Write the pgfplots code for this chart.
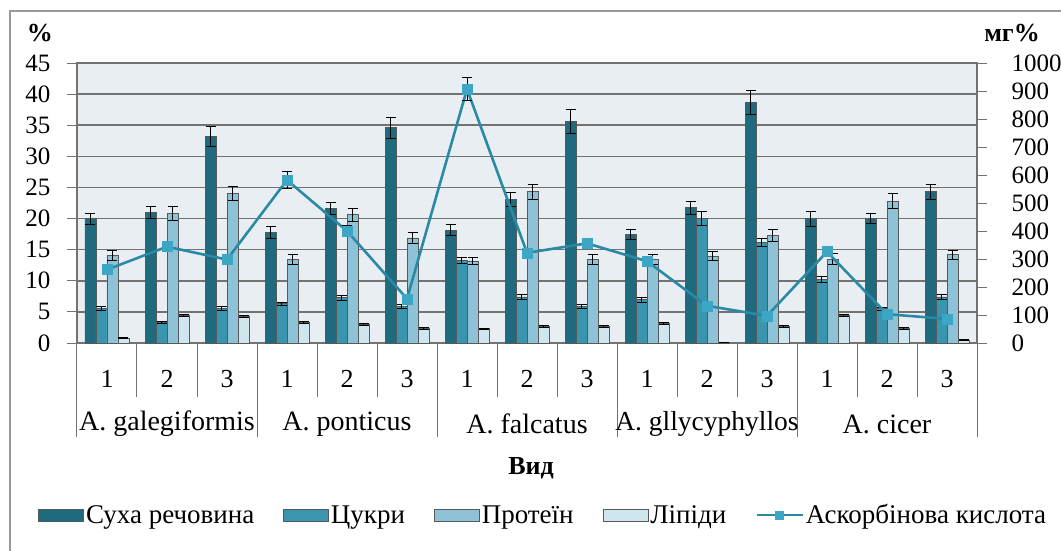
\documentclass[border=0pt]{standalone}
\usepackage{fontspec}
\setmainfont{Liberation Serif}
\usepackage{pgfplots}
\pgfplotsset{compat=1.18}
\usepackage{pgfplotstable}

\definecolor{cDry}{HTML}{1E6A7F}
\definecolor{cSug}{HTML}{3A96AE}
\definecolor{cPro}{HTML}{8EC3D7}
\definecolor{cLip}{HTML}{CFE6EF}
\definecolor{cAsc}{HTML}{2A8AA6}
\definecolor{cAscM}{HTML}{3CA6C4}
\definecolor{plotbg}{HTML}{E9EEF2}
\definecolor{gridc}{HTML}{727272}

\pgfplotstableread{
x dry dryE sug sugE pro proE lip lipE asc ascE
0 20.0 0.9 5.6 0.3 14.1 0.8 0.8 0.1 262 15
1 21.0 1.0 3.3 0.2 20.8 1.1 4.4 0.2 344 15
2 33.2 1.6 5.6 0.3 24.1 1.1 4.3 0.2 298 15
3 17.8 1.0 6.3 0.3 13.5 0.8 3.3 0.15 582 30
4 21.6 1.0 7.3 0.4 20.6 1.1 2.95 0.15 400 20
5 34.6 1.7 5.9 0.3 16.9 0.9 2.4 0.15 158 15
6 18.15 0.9 13.3 0.5 13.2 0.5 2.3 0.1 907 40
7 23.1 1.1 7.4 0.4 24.3 1.2 2.6 0.15 322 15
8 35.6 1.9 5.9 0.3 13.5 0.8 2.7 0.15 356 15
9 17.45 0.85 7.0 0.4 13.4 0.8 3.2 0.15 292 15
10 21.75 1.0 20.0 1.1 14.0 0.7 0.1 0.05 133 15
11 38.7 1.9 16.2 0.6 17.3 0.9 2.7 0.15 97 15
12 20.0 1.2 10.2 0.5 13.5 0.9 4.4 0.2 326 15
13 20.0 0.8 5.5 0.3 22.8 1.2 2.4 0.15 103 15
14 24.3 1.2 7.4 0.4 14.2 0.7 0.5 0.1 86 15
}\data

\pgfplotsset{
  barerr/.style={error bars/.cd, y dir=both, y explicit,
    error bar style={black, line width=0.8pt},
    error mark options={rotate=90, mark size=5pt, black, line width=0.8pt}},
  mybar/.style={draw=black!65, line width=0.7pt, fill=#1},
  boxlegend/.style={legend image code/.code={\draw[##1] (0pt,-6pt) rectangle (45pt,6pt);}},
  linelegend/.style={legend image code/.code={\draw[mark repeat=2,mark phase=2,mark size=4pt,##1] plot coordinates {(0pt,0pt) (23pt,0pt) (46pt,0pt)};}},
}

\begin{document}
\begin{tikzpicture}
\path[use as bounding box] (0pt,0pt) rectangle (1061pt,-550pt);
\draw[gray!80, line width=1.5pt] (10pt,-560pt) -- (10pt,-11pt) -- (1070pt,-11pt);

\begin{axis}[
  at={(77pt,-343pt)}, anchor=south west,
  scale only axis, width=900pt, height=280pt,
  ybar=0pt, bar width=11pt,
  xmin=-0.5, xmax=14.5, ymin=0, ymax=45,
  ytick={0,5,...,45}, ytick pos=left,
  xtick={0,...,14},
  xticklabels={1,2,3,1,2,3,1,2,3,1,2,3,1,2,3},
  x tick style={draw=none},
  tick align=outside, major tick length=10pt,
  y tick style={gridc, line width=1pt},
  axis background/.style={fill=plotbg},
  ymajorgrids, grid style={gridc, line width=1.5pt},
  axis line style={gridc, line width=1.2pt},
  ticklabel style={font=\fontsize{25}{30}\selectfont},
  xticklabel style={font=\fontsize{26}{30}\selectfont, yshift=-14pt},
  yticklabel style={xshift=-13pt},
  /pgf/number format/assume math mode=true,
  clip=false,
]
\addplot[mybar=cDry, barerr] table[x=x, y=dry, y error=dryE]{\data};
\addplot[mybar=cSug, barerr] table[x=x, y=sug, y error=sugE]{\data};
\addplot[mybar=cPro, barerr] table[x=x, y=pro, y error=proE]{\data};
\addplot[mybar=cLip, barerr] table[x=x, y=lip, y error=lipE]{\data};

\pgfplotsinvokeforeach{0.5,1.5,3.5,4.5,6.5,7.5,9.5,10.5,12.5,13.5}{
  \draw[gridc, line width=1pt] (axis cs:#1,0) -- ++(0pt,-54pt);
}
\pgfplotsinvokeforeach{-0.5,2.5,5.5,8.5,11.5,14.5}{
  \draw[gridc, line width=1pt] (axis cs:#1,0) -- ++(0pt,-94pt);
}
\node[font=\fontsize{28}{30}\selectfont] at (axis cs:1,0) [yshift=-81pt] {A. galegiformis};
\node[font=\fontsize{28}{30}\selectfont] at (axis cs:4,0) [yshift=-81pt] {A. ponticus};
\node[font=\fontsize{28}{30}\selectfont] at (axis cs:7,0) [yshift=-81pt] {A. falcatus};
\node[font=\fontsize{27.5}{30}\selectfont] at (axis cs:10,0) [yshift=-81pt] {A. gllycyphyllos};
\node[font=\fontsize{28}{30}\selectfont] at (axis cs:13,0) [yshift=-81pt] {A. cicer};
\end{axis}

\begin{axis}[
  at={(77pt,-343pt)}, anchor=south west,
  scale only axis, width=900pt, height=280pt,
  xmin=-0.5, xmax=14.5, ymin=0, ymax=1000,
  axis y line*=right, axis x line=none,
  ytick={0,100,...,1000},
  tick align=outside, major tick length=10pt,
  y tick style={gridc, line width=1pt},
  axis line style={gridc, line width=1.2pt},
  ticklabel style={font=\fontsize{25}{30}\selectfont},
  yticklabel style={xshift=21pt},
  /pgf/number format/assume math mode=true,
  /pgf/number format/1000 sep={},
  clip=false,
  legend style={at={(0.518,-0.614)}, anchor=center, draw=none, fill=none,
    legend columns=5, font=\fontsize{27}{30}\selectfont,
    nodes={inner sep=2pt},
    /tikz/every even column/.append style={column sep=27pt},
    legend cell align=left},
]
\addlegendimage{boxlegend, fill=cDry, draw=black!65, line width=0.7pt}
\addlegendentry{Суха речовина}
\addlegendimage{boxlegend, fill=cSug, draw=black!65, line width=0.7pt}
\addlegendentry{Цукри}
\addlegendimage{boxlegend, fill=cPro, draw=black!65, line width=0.7pt}
\addlegendentry{Протеїн}
\addlegendimage{boxlegend, fill=cLip, draw=black!65, line width=0.7pt}
\addlegendentry{Ліпіди}
\addplot[cAsc, line width=2.6pt, mark=square*, mark size=5pt,
  mark options={fill=cAscM, draw=cAscM, line width=0.5pt},
  linelegend,
  error bars/.cd, y dir=both, y explicit,
  error bar style={black, line width=0.8pt},
  error mark options={rotate=90, mark size=5pt, black, line width=0.8pt},
  ] table[x=x, y=asc, y error=ascE]{\data};
\addlegendentry{Аскорбінова кислота}
\end{axis}

\node[font=\bfseries\fontsize{26}{30}\selectfont] at (531pt,-468pt) {Вид};
\node[font=\bfseries\fontsize{26}{30}\selectfont] at (40pt,-33pt) {\%};
\node[font=\bfseries\fontsize{26}{30}\selectfont] at (1012pt,-33pt) {мг\%};
\end{tikzpicture}
\end{document}
